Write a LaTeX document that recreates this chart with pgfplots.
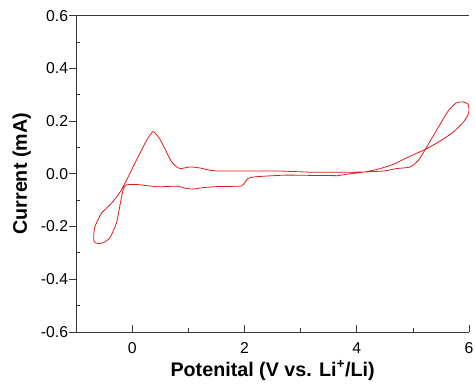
\documentclass[border=0pt]{standalone}
\usepackage{fontspec}
\setmainfont{Liberation Sans}
\usepackage{pgfplots}
\pgfplotsset{compat=1.18}
\definecolor{cvred}{RGB}{225,25,25}
\definecolor{axgray}{RGB}{55,55,55}
\begin{document}
\begin{tikzpicture}
\begin{axis}[
  scale only axis, width=399bp, height=321bp,
  at={(0,0)}, anchor=south west,
  xmin=-1, xmax=6, ymin=-0.6, ymax=0.6,
  axis lines=left,
  axis line style={-, draw=axgray, line width=0.8bp},
  every tick/.style={axgray, line width=0.8bp},
  xtick={0,2,4,6}, xticklabels={0,2,4,6},
  minor xtick={1,3,5},
  xtick align=inside,
  ytick={-0.6,-0.4,-0.2,0,0.2,0.4,0.6},
  yticklabels={-0.6,-0.4,-0.2,0.0,0.2,0.4,0.6},
  ytick align=outside,
  extra y ticks={-0.5,-0.3,-0.1,0.1,0.3,0.5},
  extra y tick labels={},
  extra y tick style={ytick align=inside, major tick length=4bp},
  major tick length=7bp, minor tick length=4bp,
  tick label style={font=\fontsize{16bp}{19bp}\selectfont},
  xticklabel style={anchor=base, inner sep=0pt, yshift=-22.3bp},
  yticklabel style={anchor=east, inner sep=0pt, xshift=-1bp},
  xlabel={Potenital (V vs. Li\textsuperscript{+}/Li)},
  ylabel={Current (mA)},
  every axis x label/.style={at={(axis description cs:0.5,-0.1402)}, anchor=base,
     font=\fontsize{20bp}{24bp}\selectfont\bfseries},
  every axis y label/.style={at={(axis description cs:-0.138,0.5)}, rotate=90, anchor=center,
     font=\fontsize{20bp}{24bp}\selectfont\bfseries},
]
\addplot[cvred, line width=0.8bp, smooth, tension=0.4] coordinates {
(3.66,-0.007) (3.2,-0.006) (2.73,-0.005) (2.21,-0.011) (2.06,-0.018)
(2.0,-0.035) (1.94,-0.046) (1.7,-0.048) (1.45,-0.049) (1.2,-0.054)
(1.09,-0.058) (0.95,-0.055) (0.80,-0.047) (0.45,-0.049) (0.10,-0.041)
(-0.105,-0.042) (-0.163,-0.061) (-0.22,-0.12) (-0.281,-0.186) (-0.396,-0.242)
(-0.52,-0.262) (-0.62,-0.264) (-0.68,-0.257) (-0.685,-0.23) (-0.665,-0.200)
(-0.60,-0.170) (-0.544,-0.148) (-0.368,-0.111) (-0.193,-0.061) (0.042,0.038)
(0.25,0.125) (0.363,0.160) (0.42,0.152) (0.509,0.126) (0.684,0.051)
(0.78,0.028) (0.860,0.020) (1.035,0.026) (1.211,0.022) (1.504,0.011)
(2.556,0.011) (3.2,0.006) (3.8,0.006) (4.14,0.007) (4.49,0.011)
(4.71,0.020) (4.95,0.026) (5.10,0.052) (5.22,0.093) (5.45,0.176)
(5.63,0.239) (5.77,0.269) (5.89,0.273) (5.98,0.265) (6.0,0.243)
(5.98,0.224) (5.89,0.194) (5.71,0.157) (5.45,0.120) (5.22,0.093)
(4.92,0.064) (4.66,0.037) (4.40,0.019) (4.14,0.007) (3.87,0.0)
(3.66,-0.007)
};
\draw[axgray, line width=0.8bp] (rel axis cs:0,1) -- (rel axis cs:1,1);
\end{axis}
\pgfresetboundingbox
\path[use as bounding box] (-77.3bp,-60bp) rectangle (405bp,337bp);
\end{tikzpicture}
\end{document}
